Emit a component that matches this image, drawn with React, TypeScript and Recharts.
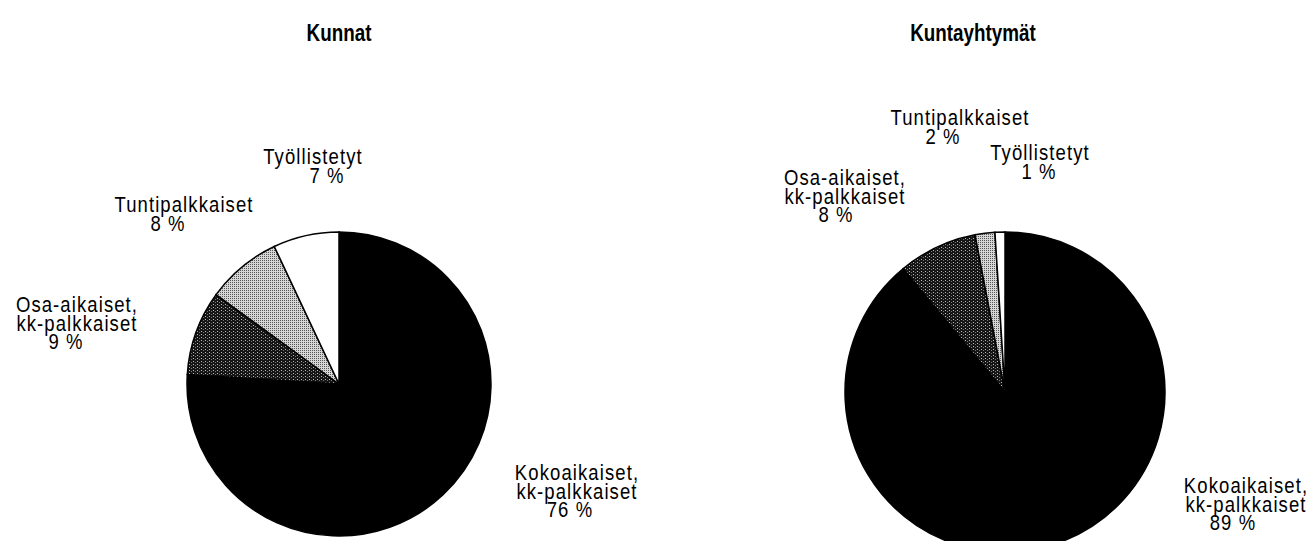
import { PieChart, Pie, Cell } from 'recharts'

// --- data ---
const categories = ['Kokoaikaiset, kk-palkkaiset', 'Osa-aikaiset, kk-palkkaiset', 'Tuntipalkkaiset', 'Työllistetyt']
const kunnatValues = [76, 9, 8, 7]
const kuntayhtymatValues = [89, 8, 2, 1]
const titles = ['Kunnat', 'Kuntayhtymät']

// label lines per category (the value line is appended)
const labelLines = [['Kokoaikaiset,', 'kk-palkkaiset'], ['Osa-aikaiset,', 'kk-palkkaiset'], ['Tuntipalkkaiset'], ['Työllistetyt']]

// --- layout (label anchors: centre x, first baseline y, x shift of % line) ---
const kunnatLabelPos = [
  { x: 577, y: 480, dx: -7 },
  { x: 77, y: 312, dx: -11 },
  { x: 184, y: 212, dx: -16 },
  { x: 313, y: 164, dx: 14 },
]
const kuntayhtymatLabelPos = [
  { x: 1246, y: 493, dx: -13 },
  { x: 845, y: 185, dx: -9 },
  { x: 960, y: 125, dx: -17 },
  { x: 1040, y: 160, dx: -1 },
]
const titleX = [339, 973]
const fills = ['#000', 'url(#darkDots)', 'url(#lightDots)', '#fff']
const FONT = '"Liberation Sans", Arial, sans-serif'
const LINE = 18.5

const toRows = (values: number[]) => categories.map((name, i) => ({ name, value: values[i] }))

function Line({ x, y, children }: { x: number; y: number; children: string }) {
  return (
    <text transform={`translate(${x},${y}) scale(1,1.2)`} textAnchor="middle" fontFamily={FONT}
      fontSize={18.5} letterSpacing={1.1} fill="#000">{children}</text>
  )
}

function makeLabel(pos: { x: number; y: number; dx: number }[]) {
  return (props: any) => {
    const i = props.index
    const p = pos[i]
    const lines = labelLines[i]
    return (
      <g key={`l${i}`}>
        {lines.map((t, k) => <Line key={k} x={p.x} y={p.y + k * LINE}>{t}</Line>)}
        <Line x={p.x + p.dx} y={p.y + lines.length * LINE}>{`${props.value} %`}</Line>
      </g>
    )
  }
}

export default function App() {
  return (
    <div style={{ position: 'absolute', left: 0, top: 0, width: 1315, height: 541, background: '#fff' }}>
      <svg width={1315} height={60} style={{ position: 'absolute', left: 0, top: 0 }}>
        <defs>
          <pattern id="lightDots" width={2} height={2} patternUnits="userSpaceOnUse">
            <rect width={2} height={2} fill="#d6d6d6" />
            <rect width={1} height={1} fill="#555" />
          </pattern>
          <pattern id="darkDots" width={4} height={3} patternUnits="userSpaceOnUse">
            <rect width={4} height={3} fill="#151515" />
            <rect x={1} y={1} width={1} height={1} fill="#bbb" />
            <rect x={3} y={2} width={1} height={1} fill="#777" />
          </pattern>
        </defs>
        {titles.map((t, i) => (
          <text key={t} transform={`translate(${titleX[i]},41) scale(0.82,1.05)`} textAnchor="middle"
            fontFamily={FONT} fontWeight="bold" fontSize={23} fill="#000">{t}</text>
        ))}
      </svg>
      <PieChart width={1315} height={541} margin={{ top: 0, right: 0, bottom: 0, left: 0 }}
        style={{ position: 'absolute', left: 0, top: 0 }}>
        <Pie data={toRows(kunnatValues)} dataKey="value" nameKey="name" cx={339} cy={384} outerRadius={152}
          startAngle={90} endAngle={-270} stroke="#000" strokeWidth={1.5}
          label={makeLabel(kunnatLabelPos)} labelLine={false} isAnimationActive={false}>
          {kunnatValues.map((_, i) => <Cell key={i} fill={fills[i]} />)}
        </Pie>
        <Pie data={toRows(kuntayhtymatValues)} dataKey="value" nameKey="name" cx={1005} cy={392} outerRadius={160}
          startAngle={90} endAngle={-270} stroke="#000" strokeWidth={1.5}
          label={makeLabel(kuntayhtymatLabelPos)} labelLine={false} isAnimationActive={false}>
          {kuntayhtymatValues.map((_, i) => <Cell key={i} fill={fills[i]} />)}
        </Pie>
      </PieChart>
    </div>
  )
}
